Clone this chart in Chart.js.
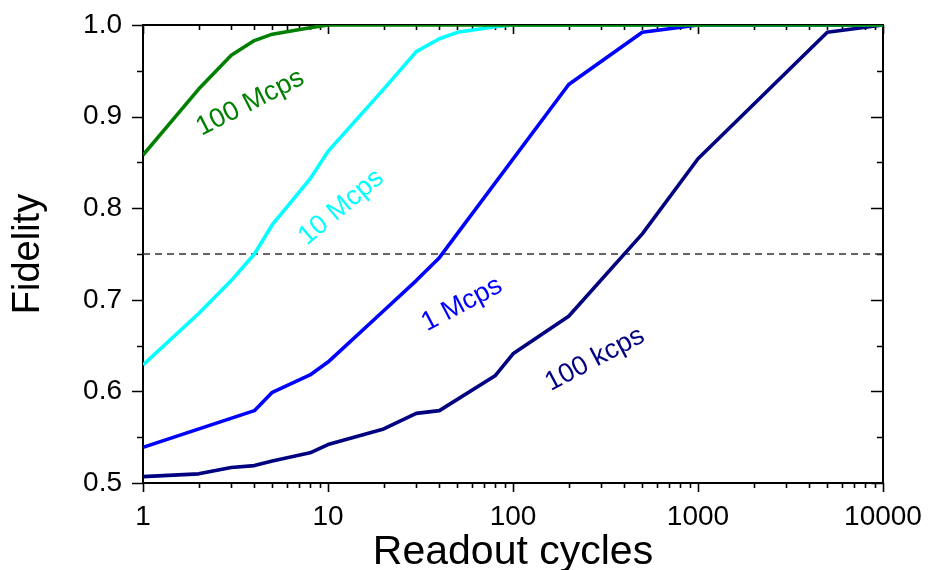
<!DOCTYPE html>
<html>
<head>
<meta charset="utf-8">
<script src="https://cdn.jsdelivr.net/npm/chart.js@4.4.1/dist/chart.umd.min.js"></script>
<style>
  html, body { margin: 0; padding: 0; background: #ffffff; }
  #wrap { width: 929px; height: 570px; }
</style>
</head>
<body>
<div id="wrap"><canvas id="chart" width="929" height="570"></canvas></div>
<script>
// Readout fidelity versus number of readout cycles, for four count rates
const cycles100M = [1, 2, 3, 4, 5, 8, 10, 10000];
const fidelity100M = [0.858, 0.930, 0.967, 0.983, 0.990, 0.997, 1.0, 1.0];

const cycles10M = [1, 2, 3, 4, 5, 8, 10, 20, 30, 40, 50, 80, 100, 10000];
const fidelity10M = [0.629, 0.685, 0.721, 0.750, 0.782, 0.832, 0.862, 0.930, 0.971, 0.985, 0.992, 0.998, 1.0, 1.0];

const cycles1M = [1, 4, 5, 8, 10, 20, 30, 40, 200, 500, 1000, 10000];
const fidelity1M = [0.539, 0.579, 0.599, 0.618, 0.632, 0.688, 0.721, 0.746, 0.935, 0.992, 1.0, 1.0];

const cycles100k = [1, 2, 3, 4, 5, 8, 10, 20, 30, 40, 80, 100, 200, 500, 1000, 5000, 10000];
const fidelity100k = [0.507, 0.510, 0.517, 0.519, 0.524, 0.533, 0.542, 0.559, 0.576, 0.579, 0.617, 0.641, 0.682, 0.772, 0.854, 0.992, 1.0];

// Threshold reference line
const thresholdCycles = [1, 10000];
const thresholdFidelity = [0.75, 0.75];

// Axis ranges and labelled ticks
const xMin = 1, xMax = 10000;
const yMin = 0.5, yMax = 1.0, yStep = 0.1;
const xTickLabels = ['1', '10', '100', '1000', '10000'];

// In-plot series captions
const captionText = ['100 Mcps', '10 Mcps', '1 Mcps', '100 kcps'];
const captionCycles = [3.8, 11.8, 53, 277];
const captionFidelity = [0.915, 0.801, 0.695, 0.635];

const FONT = '"Liberation Sans", Arial, Helvetica, sans-serif';

const toPoints = (xs, ys) => xs.map((x, i) => ({ x: x, y: ys[i] }));

const series = [
  { xs: cycles100M, ys: fidelity100M, color: '#008000' },
  { xs: cycles10M, ys: fidelity10M, color: '#00ffff' },
  { xs: cycles1M, ys: fidelity1M, color: '#0000ff' },
  { xs: cycles100k, ys: fidelity100k, color: '#000080' }
];
const captionAngles = [-27, -40, -28, -28];

const datasets = series.map((s, i) => ({
  label: captionText[i],
  data: toPoints(s.xs, s.ys),
  borderColor: s.color,
  backgroundColor: s.color,
  borderWidth: 3.6,
  borderJoinStyle: 'round',
  pointRadius: 0,
  tension: 0,
  fill: false,
  order: i + 1
}));
datasets.push({
  label: 'threshold',
  data: toPoints(thresholdCycles, thresholdFidelity),
  borderColor: '#333333',
  borderWidth: 1.3,
  borderDash: [7, 5],
  pointRadius: 0,
  fill: false,
  order: 10
});

// Frame with major/minor ticks: outward on left and bottom, inward on top and right
const framePlugin = {
  id: 'frame',
  beforeDatasetsDraw(chart) {
    const { ctx, chartArea: a, scales: { x, y } } = chart;
    ctx.save();
    ctx.strokeStyle = '#000000';
    ctx.lineWidth = 2;
    ctx.beginPath();
    ctx.rect(a.left, a.top, a.right - a.left, a.bottom - a.top);
    ctx.stroke();
    ctx.lineWidth = 1.6;
    ctx.beginPath();
    for (let d = 0; d <= 4; d++) {
      for (let m = 1; m <= 9; m++) {
        const v = m * Math.pow(10, d);
        if (v > xMax) break;
        const px = Math.round(x.getPixelForValue(v)) + 0.5;
        const len = m === 1 ? 9 : 5;
        ctx.moveTo(px, a.bottom); ctx.lineTo(px, a.bottom + len);
        ctx.moveTo(px, a.top); ctx.lineTo(px, a.top + len);
      }
    }
    for (let k = 0; k <= 10; k++) {
      const v = yMin + k * 0.05;
      const py = Math.round(y.getPixelForValue(v)) + 0.5;
      const major = k % 2 === 0;
      ctx.moveTo(a.left, py); ctx.lineTo(a.left - (major ? 11 : 6), py);
      ctx.moveTo(a.right, py); ctx.lineTo(a.right - (major ? 12 : 6), py);
    }
    ctx.stroke();
    ctx.restore();
  },
  afterDatasetsDraw(chart) {
    const { ctx, scales: { x, y } } = chart;
    ctx.save();
    ctx.font = '27px ' + FONT;
    ctx.textAlign = 'center';
    ctx.textBaseline = 'middle';
    captionText.forEach((t, i) => {
      const px = x.getPixelForValue(captionCycles[i]);
      const py = y.getPixelForValue(captionFidelity[i]);
      ctx.save();
      ctx.translate(px, py);
      ctx.rotate(captionAngles[i] * Math.PI / 180);
      ctx.fillStyle = series[i].color;
      ctx.fillText(t, 0, 0);
      ctx.restore();
    });
    ctx.restore();
  }
};

new Chart(document.getElementById('chart'), {
  type: 'line',
  data: { datasets: datasets },
  options: {
    responsive: false,
    animation: false,
    devicePixelRatio: 1,
    layout: { padding: { top: 25, right: 46, left: 0, bottom: 0 } },
    plugins: { legend: { display: false }, tooltip: { enabled: false } },
    scales: {
      x: {
        type: 'logarithmic',
        min: xMin,
        max: xMax,
        grid: { display: false, drawTicks: false, tickLength: 0 },
        border: { display: false },
        afterFit(scale) {
          scale.height = 87;
          scale.paddingLeft = 0;
          scale.paddingRight = 0;
        },
        ticks: {
          autoSkip: false,
          maxRotation: 0,
          padding: 17,
          color: '#000000',
          font: { family: FONT, size: 28 },
          callback(value) {
            const e = Math.log10(value);
            return Math.abs(e - Math.round(e)) < 1e-9 ? xTickLabels[Math.round(e)] : '';
          }
        },
        title: {
          display: true,
          text: 'Readout cycles',
          color: '#000000',
          font: { family: FONT, size: 41, lineHeight: 0.85 },
          padding: { top: 0, bottom: 0 }
        }
      },
      y: {
        type: 'linear',
        min: yMin,
        max: yMax,
        grid: { display: false, drawTicks: false, tickLength: 0 },
        border: { display: false },
        afterFit(scale) {
          scale.width = 143;
          scale.paddingTop = 0;
          scale.paddingBottom = 0;
        },
        ticks: {
          stepSize: yStep,
          padding: 21,
          color: '#000000',
          font: { family: FONT, size: 28 },
          callback(value) { return value.toFixed(1); }
        },
        title: {
          display: true,
          text: 'Fidelity',
          color: '#000000',
          font: { family: FONT, size: 38, lineHeight: 1 },
          padding: { top: 10, bottom: 0 }
        }
      }
    }
  },
  plugins: [framePlugin]
});
</script>
</body>
</html>
